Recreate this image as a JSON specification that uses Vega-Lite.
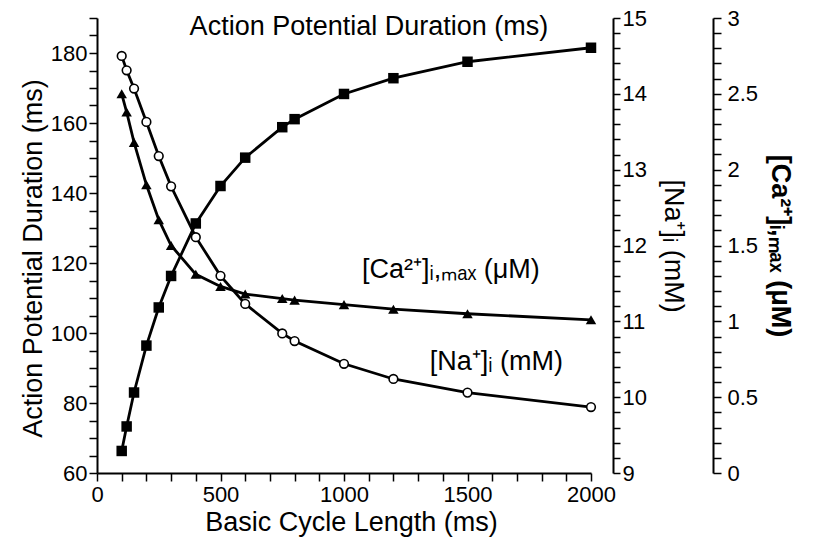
{
  "$schema": "https://vega.github.io/schema/vega-lite/v6.json",
  "width": 494,
  "height": 455,
  "autosize": {"type": "none"},
  "padding": {"left": 97, "top": 18, "right": 225, "bottom": 66},
  "background": "white",
  "config": {
    "view": {"stroke": null},
    "font": "Liberation Sans",
    "axis": {
      "domainColor": "black", "domainWidth": 2, "tickColor": "black", "tickWidth": 1.5,
      "labelColor": "black", "titleColor": "black",
      "labelFont": "Liberation Sans", "titleFont": "Liberation Sans",
      "labelFontSize": 22, "titleFontSize": 27, "titleFontWeight": "normal",
      "grid": false, "labelOverlap": false, "labelBound": false, "labelFlush": false,
      "tickCount": 200
    }
  },
  "datasets": {
    "s": [
      {"bcl": 100, "apd": 66.3, "na": 14.50, "ca": 2.50},
      {"bcl": 120, "apd": 73.3, "na": 14.31, "ca": 2.38},
      {"bcl": 150, "apd": 83.0, "na": 14.07, "ca": 2.18},
      {"bcl": 200, "apd": 96.4, "na": 13.63, "ca": 1.90},
      {"bcl": 250, "apd": 107.3, "na": 13.18, "ca": 1.67},
      {"bcl": 300, "apd": 116.3, "na": 12.78, "ca": 1.50},
      {"bcl": 400, "apd": 131.3, "na": 12.11, "ca": 1.31},
      {"bcl": 500, "apd": 142.0, "na": 11.60, "ca": 1.23},
      {"bcl": 600, "apd": 150.1, "na": 11.23, "ca": 1.18},
      {"bcl": 750, "apd": 158.8, "na": 10.84, "ca": 1.15},
      {"bcl": 800, "apd": 161.1, "na": 10.74, "ca": 1.14},
      {"bcl": 1000, "apd": 168.3, "na": 10.44, "ca": 1.11},
      {"bcl": 1200, "apd": 172.8, "na": 10.24, "ca": 1.08},
      {"bcl": 1500, "apd": 177.5, "na": 10.06, "ca": 1.05},
      {"bcl": 2000, "apd": 181.5, "na": 9.87, "ca": 1.01}
    ],
    "t": [
      {"bcl": 1101, "apd": 185.1, "label": "Action Potential Duration (ms)"},
      {"bcl": 1433, "apd": 115.7, "label": "[Ca²⁺]ᵢ,ₘₐₓ (μM)"},
      {"bcl": 1617, "apd": 89.4, "label": "[Na⁺]ᵢ (mM)"}
    ]
  },
  "encoding": {
    "x": {
      "field": "bcl", "type": "quantitative",
      "scale": {"domain": [0, 2000], "nice": false, "zero": false},
      "axis": {
        "title": "Basic Cycle Length (ms)",
        "values": [0,100,200,300,400,500,600,700,800,900,1000,1100,1200,1300,1400,1500,1600,1700,1800,1900,2000],
        "labelExpr": "datum.value % 500 === 0 ? format(datum.value, 'd') : ''",
        "tickCount": 200,
        "tickSize": 8, "labelPadding": 3, "titlePadding": 4,
        "titleX": 254,
        "encode": {"ticks": {"y2": {"value": {"expr": "datum.value % 500 === 0 ? 8 : 4"}}}}
      }
    }
  },
  "layer": [
    {
      "data": {"name": "s"},
      "layer": [
        {
          "mark": {"type": "line", "color": "black", "strokeWidth": 2.8},
          "encoding": {
            "y": {
              "field": "apd", "type": "quantitative",
              "scale": {"domain": [60, 190], "nice": false, "zero": false},
              "axis": {
                "orient": "left",
                "title": "Action Potential Duration (ms)",
                "values": [60,65,70,75,80,85,90,95,100,105,110,115,120,125,130,135,140,145,150,155,160,165,170,175,180,185,190],
                "labelExpr": "datum.value % 20 === 0 ? format(datum.value, 'd') : ''",
                "tickCount": 200,
                "tickSize": 8, "labelPadding": 2, "titlePadding": 3,
                "titleY": 240,
                "encode": {"ticks": {"x2": {"value": {"expr": "datum.value % 20 === 0 ? -8 : -4"}}}}
              }
            }
          }
        },
        {
          "mark": {"type": "point", "shape": "square", "size": 110, "filled": true, "color": "black", "opacity": 1},
          "encoding": {"y": {"field": "apd", "type": "quantitative"}}
        },
        {
          "data": {"name": "t"},
          "mark": {"type": "text", "align": "center", "baseline": "alphabetic", "fontSize": 27, "font": "Liberation Sans", "color": "black"},
          "encoding": {
            "y": {"field": "apd", "type": "quantitative"},
            "text": {"field": "label"}
          }
        }
      ]
    },
    {
      "data": {"name": "s"},
      "layer": [
        {
          "mark": {"type": "line", "color": "black", "strokeWidth": 2.8},
          "encoding": {
            "y": {
              "field": "na", "type": "quantitative",
              "scale": {"domain": [9, 15], "nice": false, "zero": false},
              "axis": {
                "orient": "right", "offset": 22,
                "title": "[Na⁺]ᵢ (mM)",
                "values": [9,9.2,9.4,9.6,9.8,10,10.2,10.4,10.6,10.8,11,11.2,11.4,11.6,11.8,12,12.2,12.4,12.6,12.8,13,13.2,13.4,13.6,13.8,14,14.2,14.4,14.6,14.8,15],
                "labelExpr": "abs(datum.value - round(datum.value)) < 0.01 ? format(datum.value, 'd') : ''",
                "tickCount": 200,
                "tickSize": 7, "labelPadding": 2, "titlePadding": 12,
                "encode": {"ticks": {"x2": {"value": {"expr": "abs(datum.value - round(datum.value)) < 0.01 ? 7 : 4"}}}}
              }
            }
          }
        },
        {
          "mark": {"type": "point", "shape": "circle", "size": 75, "filled": true, "fill": "white", "stroke": "black", "strokeWidth": 1.6, "opacity": 1},
          "encoding": {"y": {"field": "na", "type": "quantitative"}}
        }
      ]
    },
    {
      "data": {"name": "s"},
      "layer": [
        {
          "mark": {"type": "line", "color": "black", "strokeWidth": 2.8},
          "encoding": {
            "y": {
              "field": "ca", "type": "quantitative",
              "scale": {"domain": [0, 3], "nice": false, "zero": false},
              "axis": {
                "orient": "right", "offset": 122,
                "title": "[Ca²⁺]ᵢ,ₘₐₓ (μM)",
                "titleFontWeight": "bold",
                "values": [0,0.1,0.2,0.3,0.4,0.5,0.6,0.7,0.8,0.9,1,1.1,1.2,1.3,1.4,1.5,1.6,1.7,1.8,1.9,2,2.1,2.2,2.3,2.4,2.5,2.6,2.7,2.8,2.9,3],
                "labelExpr": "abs(datum.value * 2 - round(datum.value * 2)) < 0.01 ? format(datum.value, '~g') : ''",
                "tickCount": 200,
                "tickSize": 8, "labelPadding": 6, "titlePadding": 8,
                "encode": {"ticks": {"x2": {"value": {"expr": "abs(datum.value * 2 - round(datum.value * 2)) < 0.01 ? 8 : 4"}}}}
              }
            }
          }
        },
        {
          "mark": {"type": "point", "shape": "triangle-up", "size": 110, "filled": true, "color": "black", "opacity": 1},
          "encoding": {"y": {"field": "ca", "type": "quantitative"}}
        }
      ]
    }
  ],
  "resolve": {"scale": {"y": "independent"}, "axis": {"y": "independent"}}
}
